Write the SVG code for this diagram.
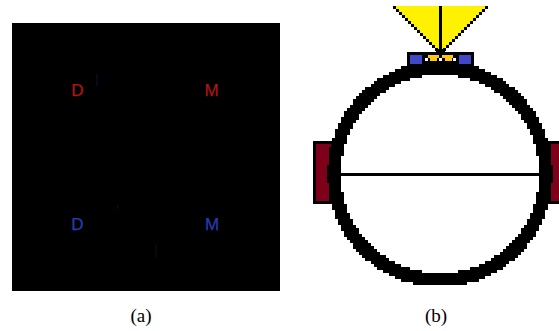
<svg xmlns="http://www.w3.org/2000/svg" width="559" height="331" viewBox="0 0 559 331">
<style>
.lab{font-family:"Liberation Sans",Arial,sans-serif;font-size:17px;text-anchor:middle;stroke-width:.25px}
.cap{font-family:"Liberation Serif","Times New Roman",serif;font-size:19px;text-anchor:middle;fill:#000}
.px{shape-rendering:crispEdges}
.red{fill:#b01515;stroke:#b01515}
.blue{fill:#2a3cb0;stroke:#2a3cb0}
.pad{fill:#7f0019}
.blk{fill:#000}
.cam{fill:#4048c8}
.led{fill:#ffc80a}
.wht{fill:#fff}
</style>
<defs>
<path id="q" d="M99 0H113v9H99zM99 9H111v9H99zM96 18H111v9H96zM96 27H108v3H96zM93 30H108v6H93zM93 36H105v3H93zM90 39H105v6H90zM87 45H102v6H87zM84 51H99v3H84zM81 54H99v3H81zM81 57H96v3H81zM78 60H96v3H78zM75 63H93v3H75zM72 66H90v3H72zM69 69H87v3H69zM66 72H87v3H66zM63 75H84v3H63zM60 78H81v3H60zM54 81H78v3H54zM51 84H75v3H51zM45 87H69v3H45zM39 90H66v3H39zM30 93H63v3H30zM18 96H57v3H18zM0 99H51v3H0zM0 102H45v3H0zM0 105H39v3H0zM0 108H27v3H0z"/>
</defs>
<rect width="559" height="331" fill="#fff"/>
<g id="panel-a">
<rect x="12" y="23" width="268" height="268" fill="#000"/>
<rect x="96" y="74" width="1.500" height="12" fill="#0a0a22"/>
<rect x="117" y="205" width="1" height="4" fill="#240808"/>
<rect x="155.500" y="245" width="1" height="12" fill="#240808"/>
<text class="lab red" x="77.500" y="96">D</text>
<text class="lab red" x="211.500" y="96">M</text>
<text class="lab blue" x="77.500" y="230">D</text>
<text class="lab blue" x="212" y="230">M</text>
<text class="cap" x="141" y="322">(a)</text>
</g>
<g id="panel-b">
<g id="pad-left" class="px"><rect x="313" y="141" width="20" height="63" class="blk"/><rect x="316" y="144" width="15" height="57" class="pad"/></g>
<g id="pad-right" class="px"><rect x="548" y="141" width="11" height="63" class="blk"/><rect x="551" y="144" width="8" height="57" class="pad"/></g>
<g id="ring" class="px">
<use href="#q" transform="translate(440,174) scale(1,-1)"/>
<use href="#q" transform="translate(440,174) scale(-1,-1)"/>
<use href="#q" transform="translate(440,174) scale(1,1)"/>
<use href="#q" transform="translate(440,174) scale(-1,1)"/>
</g>
<rect id="bar" class="px" x="340" y="173" width="200" height="3"/>
<g id="prism" class="px">
<path fill="#fff200" d="M396 6H485v3H482v3H479v3H476v3H473v3H470v3H467v3H464v3H461v3H458v3H455v3H452v3H449v3H446v3H443v3H438v-3H435v-3H432v-3H429v-3H426v-3H423v-3H420v-3H417v-3H414v-3H411v-3H408v-3H405v-3H402v-3H399v-3H396z"/>
<path class="blk" d="M393 6h3v3h-3zM396 9h3v3h-3zM399 12h3v3h-3zM402 15h3v3h-3zM405 18h3v3h-3zM408 21h3v3h-3zM411 24h3v3h-3zM414 27h3v3h-3zM417 30h3v3h-3zM420 33h3v3h-3zM423 36h3v3h-3zM426 39h3v3h-3zM429 42h3v3h-3zM432 45h3v3h-3zM435 48h3v3h-3zM485 6h3v3h-3zM482 9h3v3h-3zM479 12h3v3h-3zM476 15h3v3h-3zM473 18h3v3h-3zM470 21h3v3h-3zM467 24h3v3h-3zM464 27h3v3h-3zM461 30h3v3h-3zM458 33h3v3h-3zM455 36h3v3h-3zM452 39h3v3h-3zM449 42h3v3h-3zM446 45h3v3h-3zM443 48h3v3h-3z"/>
<rect x="439" y="6" width="3" height="44" class="blk"/>
<rect x="436" y="49" width="9" height="3" class="blk"/>
</g>
<g id="mount" class="px">
<rect x="407" y="52" width="67" height="14" class="blk"/>
<rect x="410" y="55" width="12" height="9" class="cam"/>
<rect x="459" y="55" width="12" height="9" class="cam"/>
<polygon points="428,55 439,55 439,58 437,58 437,61 430,61 430,58 428,58" class="led"/>
<polygon points="442,55 453,55 453,58 452,58 452,61 445,61 445,58 442,58" class="led"/>
<rect x="425" y="58" width="3" height="3" class="wht"/>
<rect x="439" y="58" width="3" height="3" class="wht"/>
<rect x="453" y="58" width="3" height="3" class="wht"/>
</g>
<text class="cap" x="436" y="322">(b)</text>
</g>
</svg>
